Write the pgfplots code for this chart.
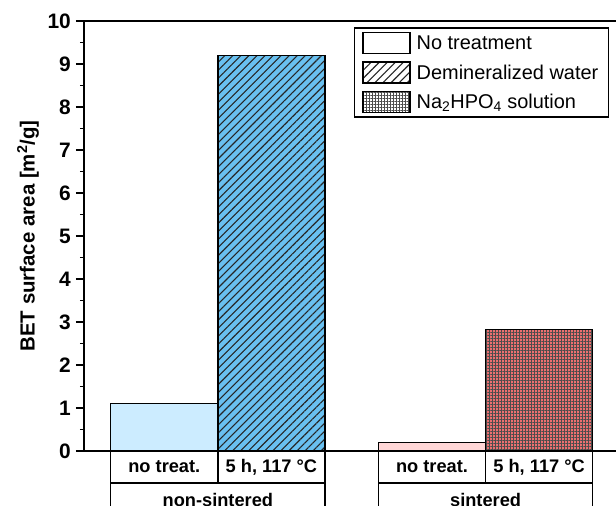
\documentclass[border=0pt]{standalone}
\usepackage{fontspec}
\setmainfont{Liberation Sans}
\usepackage{pgfplots}
\pgfplotsset{compat=1.18}
\usetikzlibrary{patterns.meta}

\definecolor{blueLight}{RGB}{204,236,255}
\definecolor{blueMid}{RGB}{105,192,240}
\definecolor{redLight}{RGB}{255,214,214}
\definecolor{redMid}{RGB}{236,112,112}

\tikzset{
  hatchpat/.style={postaction={pattern={Lines[angle=45,distance=5.7bp,line width=1.1bp]},pattern color=black!85}},
  gridpat/.style={postaction={pattern={Hatch[angle=0,distance=3bp,line width=0.6bp]},pattern color=black!70}},
}

\begin{document}
\begin{tikzpicture}
\begin{axis}[
  scale only axis,
  width=544bp, height=430bp,
  xmin=-0.75, xmax=4.33, ymin=0, ymax=10,
  ytick={0,1,...,10}, minor y tick num=1,
  xtick=\empty,
  ytick pos=left, tick align=outside,
  major tick length=8bp, minor tick length=4bp,
  axis line style={line width=1.6bp},
  every tick/.style={line width=1.4bp, black},
  /pgf/number format/assume math mode=true,
  yticklabel style={font=\fontsize{21}{21}\selectfont\bfseries, inner xsep=5bp},
  ylabel={\bfseries BET surface area [m\textsuperscript{2}/g]},
  ylabel style={font=\fontsize{20.5}{20.5}\selectfont},
  ylabel shift=0bp,
  clip=false,
  ybar, bar width=1,
  legend image code/.code={\draw[#1, line width=1.3bp] (0bp,-10.5bp) rectangle (47bp,10.5bp); \path (51bp,0bp);},
  legend style={at={(axis description cs:0.965,0.985)}, anchor=north east,
    draw=black, line width=1.3bp, font=\fontsize{20}{20}\selectfont,
    row sep=7bp, inner xsep=8bp, inner ysep=4bp},
  legend cell align=left,
]
% bars: untreated / treated, non-sintered and sintered
\addplot[bar shift=0pt, fill=blueLight, draw=black, line width=1.3bp, forget plot] coordinates {(0,1.11)};
\addplot[bar shift=0pt, fill=blueMid, draw=black, line width=1.3bp, hatchpat, forget plot] coordinates {(1,9.19)};
\addplot[bar shift=0pt, fill=redLight, draw=black, line width=1.3bp, forget plot] coordinates {(2.5,0.20)};
\addplot[bar shift=0pt, fill=redMid, draw=black, line width=1.3bp, gridpat, forget plot] coordinates {(3.5,2.82)};

\addlegendimage{fill=white, draw=black}
\addlegendentry{No treatment}
\addlegendimage{fill=white, draw=black, hatchpat}
\addlegendentry{Demineralized water}
\addlegendimage{fill=white, draw=black, gridpat}
\addlegendentry{Na\textsubscript{2}HPO\textsubscript{4} solution}

% category table below the axis
\begin{scope}[line width=1.3bp]
\draw (axis cs:-0.5,0) -- (axis cs:-0.5,-1.6);
\draw (axis cs:0.5,0) -- (axis cs:0.5,-0.744);
\draw (axis cs:1.5,0) -- (axis cs:1.5,-1.6);
\draw (axis cs:2,0) -- (axis cs:2,-1.6);
\draw (axis cs:3,0) -- (axis cs:3,-0.744);
\draw (axis cs:4,0) -- (axis cs:4,-1.6);
\draw (axis cs:-0.5,-0.744) -- (axis cs:1.5,-0.744);
\draw (axis cs:2,-0.744) -- (axis cs:4,-0.744);
\end{scope}
\begin{scope}[every node/.style={font=\fontsize{18.3}{18.3}\selectfont\bfseries}]
\node at (axis cs:0,-0.372) {no treat.};
\node at (axis cs:1,-0.372) {5 h, 117 °C};
\node at (axis cs:2.5,-0.372) {no treat.};
\node at (axis cs:3.5,-0.372) {5 h, 117 °C};
\node at (axis cs:0.5,-1.13) {non-sintered};
\node at (axis cs:3,-1.13) {sintered};
\end{scope}
\end{axis}
\pgfresetboundingbox
\useasboundingbox (-84bp,-55bp) rectangle (532bp,451bp);
\end{tikzpicture}
\end{document}
